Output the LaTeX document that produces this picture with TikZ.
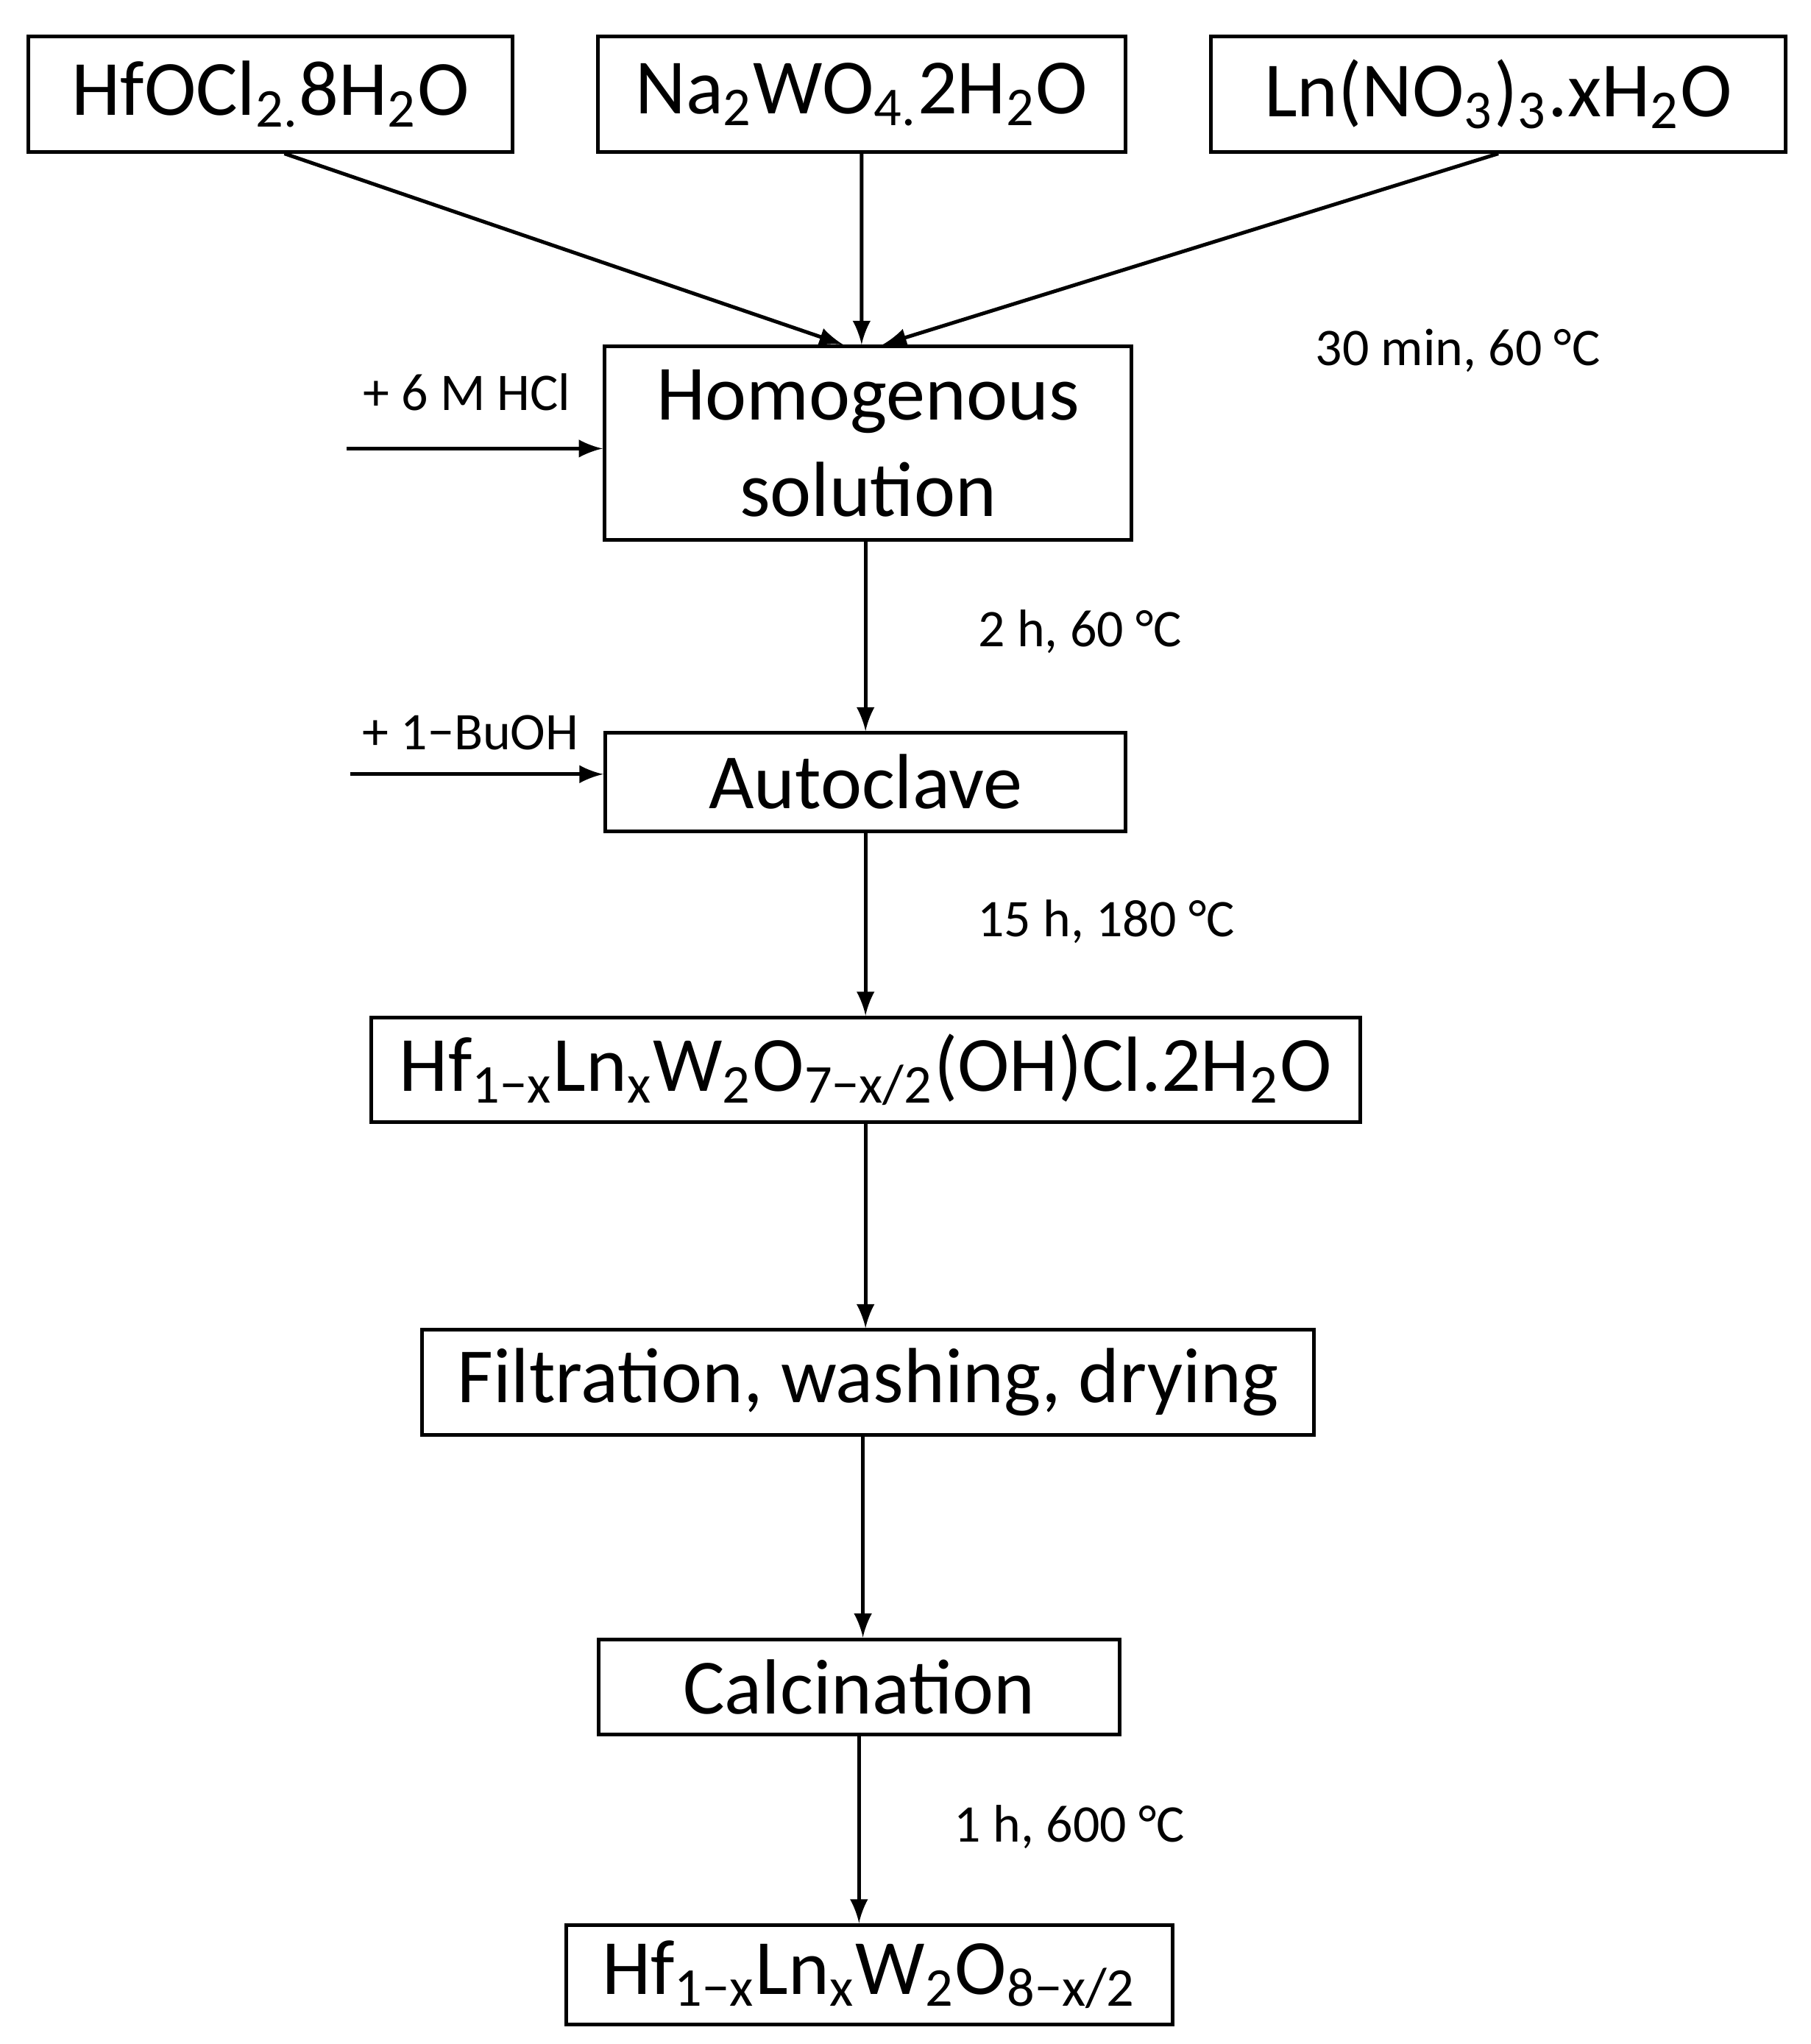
\documentclass[tikz,border=0pt]{standalone}
\usepackage{fontspec}
\setmainfont{Carlito}
\newcommand{\sub}[1]{\textsubscript{#1}}
\begin{document}
\begin{tikzpicture}[x=0.01cm,y=-0.01cm,
  box/.style={draw,thick,inner sep=0pt,font=\fontsize{17}{21}\selectfont,align=center},
  cond/.style={font=\fontsize{11.5}{14}\selectfont},
  arr/.style={-latex,thick}]
\useasboundingbox (0,0) rectangle (1385,1563);

% starting materials
\node[box,minimum width=3.7cm,minimum height=0.88cm] (hfo) at (207,72) {HfOCl\sub{2.}8H\sub{2}O};
\node[box,minimum width=4.03cm,minimum height=0.88cm] (naw) at (659,72) {Na\sub{2}WO\sub{4.}2H\sub{2}O};
\node[box,minimum width=4.39cm,minimum height=0.88cm] (lno) at (1146,72) {Ln(NO\sub{3})\sub{3}.xH\sub{2}O};

% process steps
\node[box,minimum width=4.03cm,minimum height=1.48cm] (homo) at (664,339) {Homogenous\\solution};
\node[box,minimum width=3.98cm,minimum height=0.75cm] (auto) at (662,598) {Autoclave};
\node[box,minimum width=7.56cm,minimum height=0.8cm] (inter) at (662,818) {Hf\sub{1−x}Ln\sub{x}W\sub{2}O\sub{7−x/2}(OH)Cl.2H\sub{2}O};
\node[box,minimum width=6.82cm,minimum height=0.8cm] (filt) at (664,1057) {Filtration, washing, drying};
\node[box,minimum width=3.98cm,minimum height=0.73cm] (calc) at (657,1290) {Calcination};
\node[box,minimum width=4.64cm,minimum height=0.76cm] (prod) at (665,1510) {Hf\sub{1−x}Ln\sub{x}W\sub{2}O\sub{8−x/2}};

% additions
\coordinate (hcl) at (265,343);
\coordinate (buoh) at (268,592);
\node[cond] (hcll) at (357,300) {+ 6 M HCl};
\node[cond] (buohl) at (360,560) {+ 1−BuOH};

% conditions
\node[cond] (c1) at (1115,268) {30 min, 60 °C};
\node[cond] (c2) at (826,483) {2 h, 60 °C};
\node[cond] (c3) at (846,705) {15 h, 180 °C};
\node[cond] (c4) at (818,1397) {1 h, 600 °C};

% connectors
\draw[arr] ([xshift=3pt]hfo.south) -- ([xshift=-0.19cm]homo.north);
\draw[arr] (naw.south) -- ([xshift=-0.05cm]homo.north);
\draw[arr] (lno.south) -- ([xshift=0.11cm]homo.north);
\draw[arr] (hcl) -- (hcl -| homo.west);
\draw[arr] (buoh) -- (buoh -| auto.west);
\draw[arr] ([xshift=-0.02cm]homo.south) -- ([xshift=-0.02cm]homo.south |- auto.north);
\draw[arr] (auto.south) -- (auto.south |- inter.north);
\draw[arr] (inter.south) -- (inter.south |- filt.north);
\draw[arr] ([xshift=-0.04cm]filt.south) -- ([xshift=-0.04cm]filt.south |- calc.north);
\draw[arr] (calc.south) -- (calc.south |- prod.north);
\end{tikzpicture}
\end{document}
